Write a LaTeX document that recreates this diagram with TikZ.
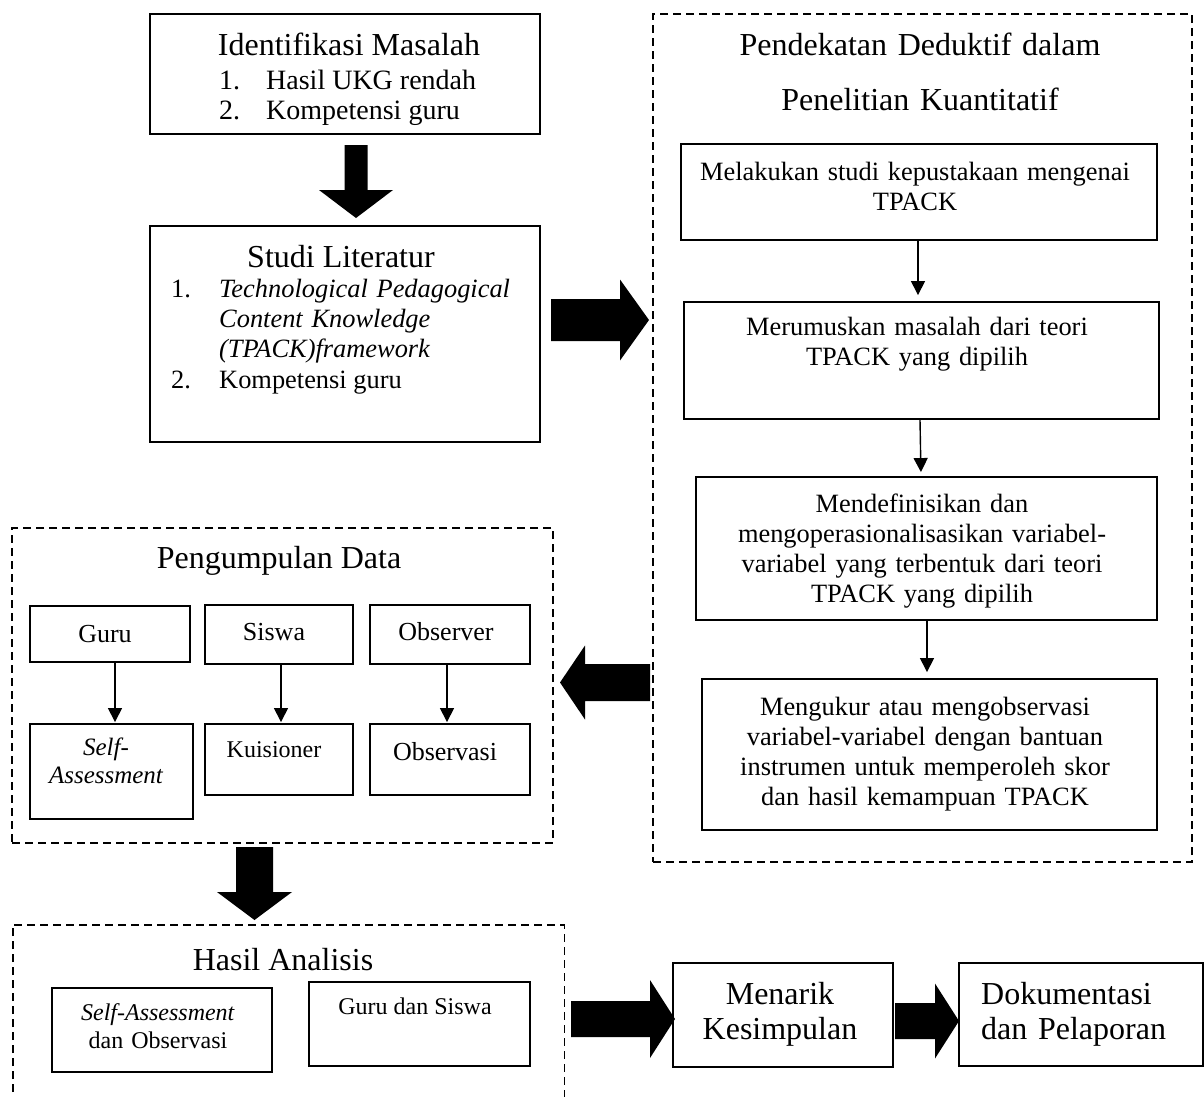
\documentclass[tikz,border=0pt]{standalone}
\usepackage{fontspec}
\setmainfont{Liberation Serif}
\usetikzlibrary{arrows.meta}
\newcommand\blockH[6]{\fill (#1,#4-#5) -- (#2,#4-#5) -- (#2,#4-#6) -- (#3,#4) -- (#2,#4+#6) -- (#2,#4+#5) -- (#1,#4+#5) -- cycle;}
\newcommand\blockV[6]{\fill (#4-#5,#1) -- (#4-#5,#2) -- (#4-#6,#2) -- (#4,#3) -- (#4+#6,#2) -- (#4+#5,#2) -- (#4+#5,#1) -- cycle;}
\begin{document}
\begin{tikzpicture}[x=1pt,y=-1pt,
  box/.style={draw, line width=1.9pt, inner sep=0pt},
  dbox/.style={draw, line width=1.4pt, dash pattern=on 8pt off 5pt, inner sep=0pt},
  lbl/.style={inner sep=0pt, anchor=base},
  mlbl/.style={inner sep=0pt, anchor=base, text width=#1, align=center},
  thinarr/.style={line width=1.4pt, -{Triangle[length=14pt,width=14pt]}},
  ftitle/.style={font=\fontsize{32}{37}\selectfont},
  fitem/.style={font=\fontsize{28}{30}\selectfont},
  fbody/.style={font=\fontsize{26.4}{30}\selectfont},
  fsmall/.style={font=\fontsize{26}{28}\selectfont},
  ftiny/.style={font=\fontsize{24}{28}\selectfont},
]
\fill[white] (0,0) rectangle (1204,1096);
\useasboundingbox (0,0) rectangle (1204,1096);

% ---------- Identifikasi Masalah ----------
\node[box, minimum width=390pt, minimum height=120pt] (ident) at (345,74) {};
\node[lbl, ftitle] (identT) at (349,55) {Identifikasi Masalah};
\node[lbl, anchor=base west, fitem] (identN1) at (219,89) {1.};
\node[lbl, anchor=base west, fitem] (identI1) at (266,89) {Hasil UKG rendah};
\node[lbl, anchor=base west, fitem] (identN2) at (219,119) {2.};
\node[lbl, anchor=base west, fitem] (identI2) at (266,119) {Kompetensi guru};

% ---------- Studi Literatur ----------
\node[box, minimum width=390pt, minimum height=216pt] (studi) at (345,334) {};
\node[lbl, ftitle] (studiT) at (341,267) {Studi Literatur};
\node[lbl, anchor=base west, fbody] (studiN1) at (171,297) {1.};
\node[lbl, anchor=base west, fbody, text width=320pt, align=left] (studiI1) at (219,297)
  {\itshape Technological Pedagogical\\Content Knowledge\\(TPACK)framework};
\node[lbl, anchor=base west, fbody] (studiN2) at (171,388) {2.};
\node[lbl, anchor=base west, fbody] (studiI2) at (219,388) {Kompetensi guru};

% ---------- Pendekatan Deduktif ----------
\node[dbox, minimum width=539pt, minimum height=848pt] (pend) at (922.5,438) {};
\node[mlbl=520pt, font=\fontsize{32}{55}\selectfont] (pendT) at (920,55)
  {Pendekatan Deduktif dalam\\Penelitian Kuantitatif};
\node[box, minimum width=476pt, minimum height=96pt] (p1) at (919,192) {};
\node[mlbl=470pt, fbody] (p1T) at (915,180) {Melakukan studi kepustakaan mengenai\\TPACK};
\node[box, minimum width=475pt, minimum height=117pt] (p2) at (921.5,360.5) {};
\node[mlbl=470pt, fbody] (p2T) at (917,335) {Merumuskan masalah dari teori\\TPACK yang dipilih};
\node[box, minimum width=461pt, minimum height=143pt] (p3) at (926.5,548.5) {};
\node[mlbl=455pt, fbody] (p3T) at (922,512)
  {Mendefinisikan dan\\mengoperasionalisasikan variabel-\\variabel yang terbentuk dari teori\\TPACK yang dipilih};
\node[box, minimum width=455pt, minimum height=151pt] (p4) at (929.5,754.5) {};
\node[mlbl=450pt, fbody] (p4T) at (925,715)
  {Mengukur atau mengobservasi\\variabel-variabel dengan bantuan\\instrumen untuk memperoleh skor\\dan hasil kemampuan TPACK};

\draw[thinarr, shorten >=6pt] ([xshift=-1pt]p1.south) -- ([xshift=-3.5pt]p2.north);
\draw[thinarr, shorten >=4pt] ([xshift=-1.5pt]p2.south) -- ([xshift=-5.5pt]p3.north);
\draw[thinarr, shorten >=6pt] ([xshift=0.5pt]p3.south) -- ([xshift=-2.5pt]p4.north);

% ---------- Pengumpulan Data ----------
\node[dbox, minimum width=541pt, minimum height=315pt] (peng) at (282.5,685.5) {};
\node[lbl, ftitle] (pengT) at (279,568) {Pengumpulan Data};
\node[box, minimum width=160pt, minimum height=56pt] (guru) at (110,634) {};
\node[lbl, fsmall] (guruT) at (105,642) {Guru};
\node[box, minimum width=148pt, minimum height=59pt] (siswa) at (279,634.5) {};
\node[lbl, fsmall] (siswaT) at (274,640) {Siswa};
\node[box, minimum width=160pt, minimum height=59pt] (obs) at (450,634.5) {};
\node[lbl, fsmall] (obsT) at (446,640) {Observer};
\node[box, minimum width=163pt, minimum height=95pt] (sa) at (111.5,771.5) {};
\node[mlbl=160pt, font=\fontsize{25}{28}\selectfont] (saT) at (106,755) {\itshape Self-\\Assessment};
\node[box, minimum width=148pt, minimum height=71pt] (kuis) at (279,759.5) {};
\node[lbl, font=\fontsize{24}{28}\selectfont] (kuisT) at (274,757) {Kuisioner};
\node[box, minimum width=160pt, minimum height=71pt] (obsv) at (450,759.5) {};
\node[lbl, fsmall] (obsvT) at (445,760) {Observasi};

\draw[thinarr, shorten >=1pt] ([xshift=5pt]guru.south) -- ([xshift=3.5pt]sa.north);
\draw[thinarr, shorten >=1pt] ([xshift=2pt]siswa.south) -- ([xshift=2pt]kuis.north);
\draw[thinarr, shorten >=1pt] ([xshift=-3pt]obs.south) -- ([xshift=-3pt]obsv.north);

% ---------- Hasil Analisis ----------
\node[minimum width=551pt, minimum height=180pt, inner sep=0pt] (hasil) at (288.5,1015) {};
\draw[line width=1.4pt, dash pattern=on 8pt off 5pt] (hasil.south west) -- (hasil.north west) -- (hasil.north east) -- (hasil.south east);
\node[lbl, ftitle] (hasilT) at (283,970) {Hasil Analisis};
\node[box, minimum width=220pt, minimum height=84pt] (hsa) at (162,1030) {};
\node[mlbl=215pt, ftiny] (hsaT) at (158,1020) {\textit{Self-Assessment}\\dan Observasi};
\node[box, minimum width=221pt, minimum height=84pt] (hgs) at (419.5,1024) {};
\node[lbl, ftiny] (hgsT) at (415,1014) {Guru dan Siswa};

% ---------- Menarik Kesimpulan / Dokumentasi ----------
\node[box, minimum width=220pt, minimum height=104pt] (menarik) at (783,1015) {};
\node[mlbl=215pt, font=\fontsize{32}{35.5}\selectfont] (menarikT) at (780,1004) {Menarik\\Kesimpulan};
\node[box, minimum width=244pt, minimum height=103pt] (dok) at (1081,1014.5) {};
\node[lbl, anchor=base west, text width=220pt, align=left, font=\fontsize{32}{35.5}\selectfont] (dokT) at (981,1004) {Dokumentasi\\dan Pelaporan};

% ---------- block arrows ----------
\blockV{145}{190}{218}{356}{11.5}{37}
\blockH{551}{620}{649}{320}{21}{40.5}
\blockH{650}{585}{560}{682.5}{18.5}{37}
\blockV{847}{892}{920}{254.5}{18.5}{37.5}
\blockH{571}{650}{675}{1019}{18}{39}
\blockH{895}{935}{959}{1021}{18}{37.5}
\end{tikzpicture}
\end{document}
